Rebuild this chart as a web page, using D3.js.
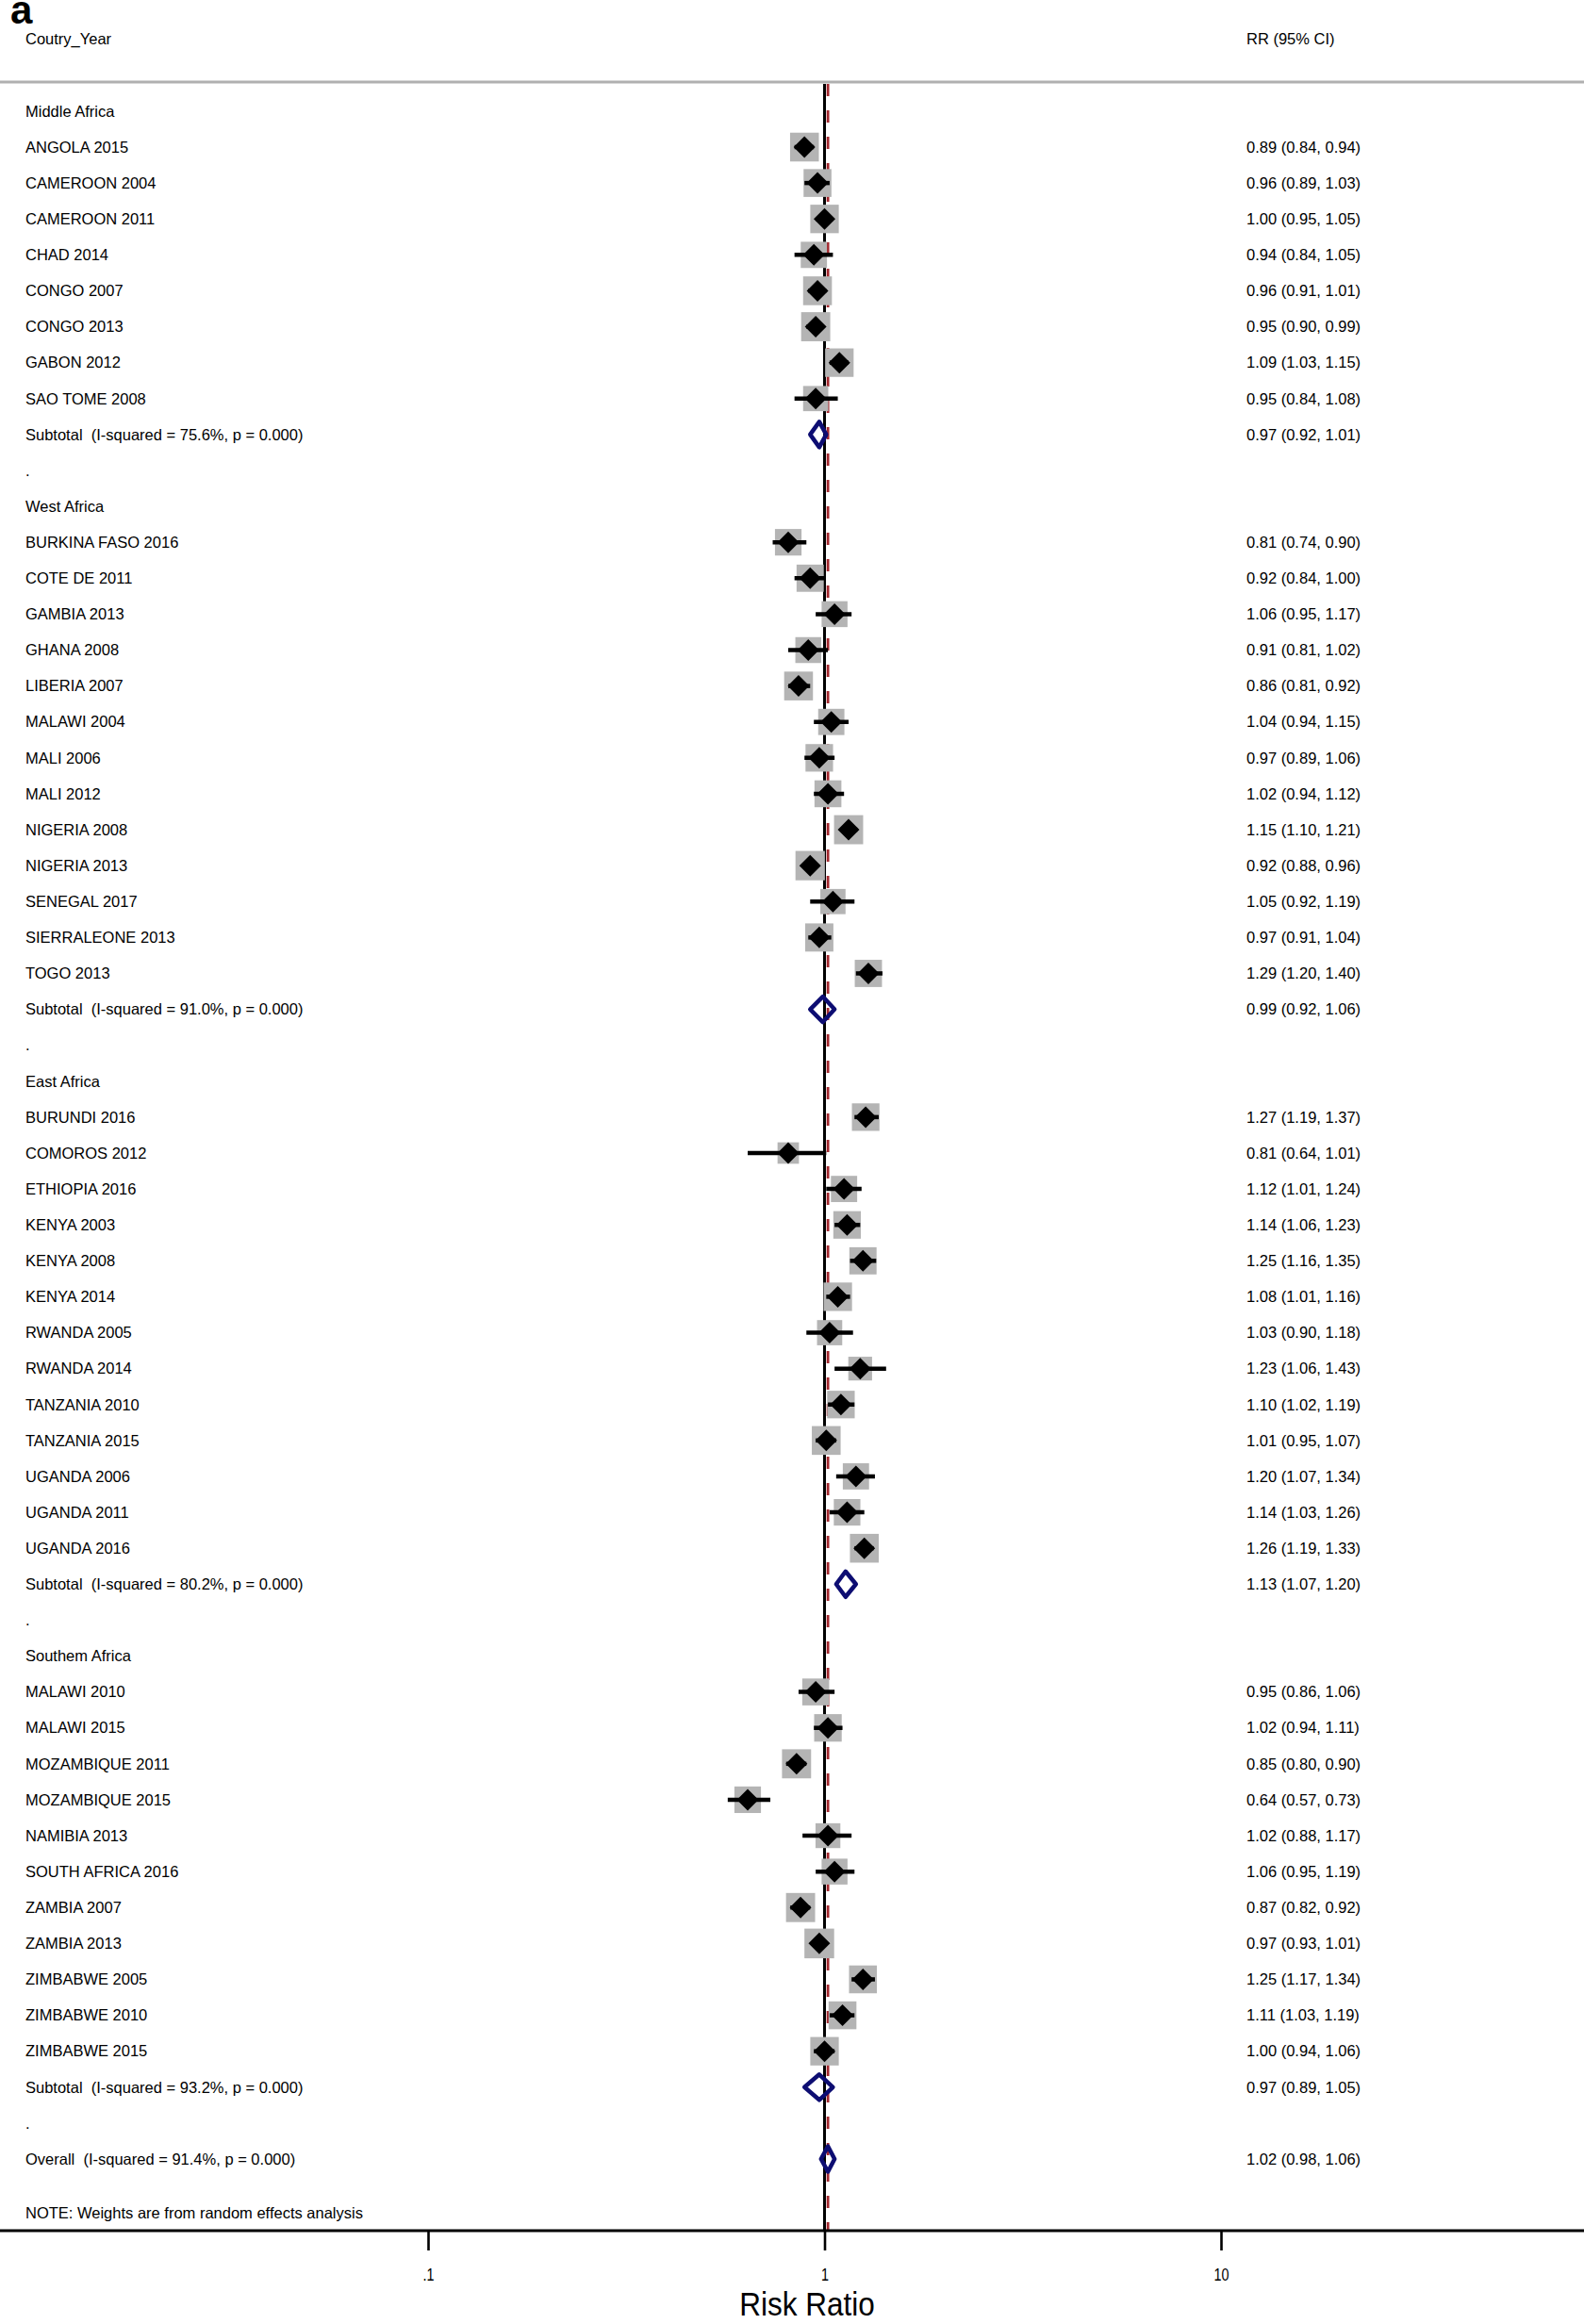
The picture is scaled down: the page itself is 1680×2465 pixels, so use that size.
<!DOCTYPE html>
<html>
<head>
<meta charset="utf-8">
<script src="https://cdn.jsdelivr.net/npm/d3@7"></script>
<style>
  html, body { margin: 0; padding: 0; background: #fff; }
  svg text { font-family: Arial, "Liberation Sans", sans-serif; white-space: pre; }
</style>
</head>
<body>
<svg id="chart" width="1680" height="2465"></svg>
<script>
// ---------------- DATA ----------------
const regions = ["Middle Africa", "West Africa", "East Africa", "Southem Africa"];

const studyLabels = [
  ["ANGOLA 2015","CAMEROON 2004","CAMEROON 2011","CHAD 2014","CONGO 2007","CONGO 2013","GABON 2012","SAO TOME 2008"],
  ["BURKINA FASO 2016","COTE DE 2011","GAMBIA 2013","GHANA 2008","LIBERIA 2007","MALAWI 2004","MALI 2006","MALI 2012","NIGERIA 2008","NIGERIA 2013","SENEGAL 2017","SIERRALEONE 2013","TOGO 2013"],
  ["BURUNDI 2016","COMOROS 2012","ETHIOPIA 2016","KENYA 2003","KENYA 2008","KENYA 2014","RWANDA 2005","RWANDA 2014","TANZANIA 2010","TANZANIA 2015","UGANDA 2006","UGANDA 2011","UGANDA 2016"],
  ["MALAWI 2010","MALAWI 2015","MOZAMBIQUE 2011","MOZAMBIQUE 2015","NAMIBIA 2013","SOUTH AFRICA 2016","ZAMBIA 2007","ZAMBIA 2013","ZIMBABWE 2005","ZIMBABWE 2010","ZIMBABWE 2015"]
];
const studyRR = [
  [0.89,0.96,1.00,0.94,0.96,0.95,1.09,0.95],
  [0.81,0.92,1.06,0.91,0.86,1.04,0.97,1.02,1.15,0.92,1.05,0.97,1.29],
  [1.27,0.81,1.12,1.14,1.25,1.08,1.03,1.23,1.10,1.01,1.20,1.14,1.26],
  [0.95,1.02,0.85,0.64,1.02,1.06,0.87,0.97,1.25,1.11,1.00]
];
const studyLo = [
  [0.84,0.89,0.95,0.84,0.91,0.90,1.03,0.84],
  [0.74,0.84,0.95,0.81,0.81,0.94,0.89,0.94,1.10,0.88,0.92,0.91,1.20],
  [1.19,0.64,1.01,1.06,1.16,1.01,0.90,1.06,1.02,0.95,1.07,1.03,1.19],
  [0.86,0.94,0.80,0.57,0.88,0.95,0.82,0.93,1.17,1.03,0.94]
];
const studyHi = [
  [0.94,1.03,1.05,1.05,1.01,0.99,1.15,1.08],
  [0.90,1.00,1.17,1.02,0.92,1.15,1.06,1.12,1.21,0.96,1.19,1.04,1.40],
  [1.37,1.01,1.24,1.23,1.35,1.16,1.18,1.43,1.19,1.07,1.34,1.26,1.33],
  [1.06,1.11,0.90,0.73,1.17,1.19,0.92,1.01,1.34,1.19,1.06]
];
// box weights (%)
const studyWeight = [
  [2.35,2.2,2.3,1.95,2.35,2.4,2.3,1.8],
  [2.0,2.1,1.9,1.9,2.35,1.95,2.15,2.05,2.4,2.45,1.8,2.25,2.1],
  [2.15,1.3,1.95,2.15,2.1,2.3,1.8,1.6,2.15,2.35,1.95,2.0,2.35],
  [2.05,2.15,2.4,2.0,1.75,1.9,2.4,2.5,2.2,2.2,2.3]
];
const subI2 = ["75.6%","91.0%","80.2%","93.2%"];
const subRR = [0.97,0.99,1.13,0.97];
const subLo = [0.92,0.92,1.07,0.89];
const subHi = [1.01,1.06,1.20,1.05];
const overall = {label:"Overall  (I-squared = 91.4%, p = 0.000)", rr:1.02, lo:0.98, hi:1.06};
const xTicks = [0.1, 1, 10];
const xTickLabels = [".1", "1", "10"];
const headerLeft = "Coutry_Year";
const headerRight = "RR (95% CI)";
const noteText = "NOTE: Weights are from random effects analysis";
const axisTitle = "Risk Ratio";

// ---------------- LAYOUT ----------------
const W = 1680, H = 2465;
const svg = d3.select("#chart");
svg.append("rect").attr("width", W).attr("height", H).attr("fill", "#fff");

const x = d3.scaleLog().domain([0.1, 10]).range([454, 1295]);
const y = d3.scaleLinear().domain([0, 57]).range([117.9, 2290]);
const boxSize = d3.scaleSqrt().domain([0, 2.5]).range([0, 31.5]);

const labelX = 27, rrX = 1322, fs = 16.5;
const fmt = v => v.toFixed(2);
const ciText = (r, l, h) => `${fmt(r)} (${fmt(l)}, ${fmt(h)})`;

// build rows
const rows = [];
let ri = 0;
regions.forEach((reg, g) => {
  rows.push({type:"header", row: ri++, label: reg});
  studyLabels[g].forEach((lab, k) => {
    rows.push({type:"study", row: ri++, label: lab, rr: studyRR[g][k], lo: studyLo[g][k], hi: studyHi[g][k], w: studyWeight[g][k]});
  });
  rows.push({type:"sub", row: ri++, label: `Subtotal  (I-squared = ${subI2[g]}, p = 0.000)`, rr: subRR[g], lo: subLo[g], hi: subHi[g]});
  rows.push({type:"dot", row: ri++, label: "."});
});
rows.push({type:"overall", row: ri++, label: overall.label, rr: overall.rr, lo: overall.lo, hi: overall.hi});

const topY = 87, axisY = 2366;

// header
svg.append("text").attr("x", 11).attr("y", 25).attr("font-size", 42).attr("font-weight", "bold").text("a");
svg.append("text").attr("x", labelX).attr("y", 41).attr("dy", "0.35em").attr("font-size", fs).text(headerLeft);
svg.append("text").attr("x", rrX).attr("y", 41).attr("dy", "0.35em").attr("font-size", fs).text(headerRight);
svg.append("line").attr("x1", 0).attr("x2", W).attr("y1", topY).attr("y2", topY)
  .attr("stroke", "#b0b0b0").attr("stroke-width", 3);

// reference lines
svg.append("line").attr("x1", x(overall.rr)).attr("x2", x(overall.rr)).attr("y1", topY + 2).attr("y2", axisY)
  .attr("stroke", "#a3282e").attr("stroke-width", 2.8).attr("stroke-dasharray", "13 15");
svg.append("line").attr("x1", x(1)).attr("x2", x(1)).attr("y1", topY + 2).attr("y2", axisY)
  .attr("stroke", "#000").attr("stroke-width", 3);

// labels
svg.append("g").selectAll("text").data(rows).join("text")
  .attr("x", labelX).attr("y", d => y(d.row)).attr("dy", "0.35em").attr("font-size", fs)
  .text(d => d.label);
svg.append("g").selectAll("text").data(rows.filter(d => d.rr !== undefined)).join("text")
  .attr("x", rrX).attr("y", d => y(d.row)).attr("dy", "0.35em").attr("font-size", fs)
  .text(d => ciText(d.rr, d.lo, d.hi));

// study marks
const studies = rows.filter(d => d.type === "study");
svg.append("g").selectAll("rect").data(studies).join("rect")
  .attr("x", d => x(d.rr) - boxSize(d.w) / 2).attr("y", d => y(d.row) - boxSize(d.w) / 2)
  .attr("width", d => boxSize(d.w)).attr("height", d => boxSize(d.w))
  .attr("fill", "#b4b4b4");
svg.append("g").selectAll("line").data(studies).join("line")
  .attr("x1", d => x(d.lo)).attr("x2", d => x(d.hi)).attr("y1", d => y(d.row)).attr("y2", d => y(d.row))
  .attr("stroke", "#000").attr("stroke-width", 4.5);
const dm = 11.5;
svg.append("g").selectAll("path").data(studies).join("path")
  .attr("d", d => { const cx = x(d.rr), cy = y(d.row);
    return `M${cx - dm},${cy}L${cx},${cy - dm}L${cx + dm},${cy}L${cx},${cy + dm}Z`; })
  .attr("fill", "#000");

// pooled diamonds
const pooled = rows.filter(d => d.type === "sub" || d.type === "overall");
const ph = 13.5;
svg.append("g").selectAll("path").data(pooled).join("path")
  .attr("d", d => { const cy = y(d.row);
    return `M${x(d.lo)},${cy}L${x(d.rr)},${cy - ph}L${x(d.hi)},${cy}L${x(d.rr)},${cy + ph}Z`; })
  .attr("fill", "none").attr("stroke", "#0d0d72").attr("stroke-width", 4.5).attr("stroke-linejoin", "round");

// note
svg.append("text").attr("x", labelX).attr("y", y(58.5)).attr("dy", "0.35em").attr("font-size", fs).text(noteText);

// axis
svg.append("line").attr("x1", 0).attr("x2", W).attr("y1", axisY).attr("y2", axisY)
  .attr("stroke", "#000").attr("stroke-width", 3);
const axis = d3.axisBottom(x).tickValues(xTicks).tickFormat((d, i) => xTickLabels[i]).tickSize(21).tickPadding(0);
const ag = svg.append("g").attr("transform", `translate(0,${axisY})`).call(axis);
ag.select(".domain").remove();
ag.selectAll(".tick line").attr("stroke", "#000").attr("stroke-width", 2.6);
ag.selectAll(".tick text").attr("fill", "#000").attr("font-size", 18).attr("dy", 0).attr("y", 0)
  .attr("transform", `translate(0,53) scale(0.8,1)`)
  .attr("text-anchor", "middle");

// axis title
svg.append("text").attr("transform", `translate(856,2456) scale(0.9,1)`)
  .attr("text-anchor", "middle").attr("font-size", 35).text(axisTitle);
</script>
</body>
</html>
